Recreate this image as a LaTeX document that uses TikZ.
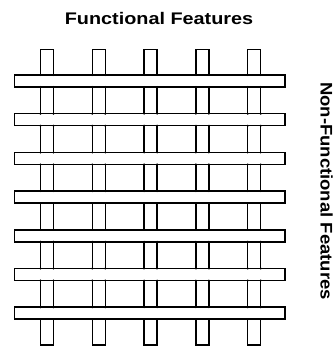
\documentclass[tikz,border=0pt]{standalone}
\usepackage{fontspec}
\setmainfont{Liberation Sans}
\begin{document}
\begin{tikzpicture}[x=1pt,y=-1pt,
  bar/.style={draw=black,line width=1.5pt,fill=white},
  post/.style={draw=black,line width=1.5pt},
  joint/.style={fill=black},
  lbl/.style={font=\fontsize{16.8}{20}\selectfont\bfseries,inner sep=0pt}]
\useasboundingbox (0,0) rectangle (335,348);
% title and side label
\node[lbl,anchor=base] (title) at (159,24) {\scalebox{1.18}[1]{Functional Features}};
\node[lbl,anchor=base,rotate=-90] (side) at (320.5,191) {\scalebox{1.10}[1]{Non-Functional Features}};
% bars (horizontal)
\foreach \k in {0,...,6}{
  \pgfmathsetmacro{\yt}{75+38.7*\k}
  \draw[bar] (14.5,\yt) rectangle (285,\yt+12);
}
% posts (vertical)
\foreach \i in {0,...,4}{
  \pgfmathsetmacro{\xl}{40.5+51.8*\i}
  \pgfmathsetmacro{\xr}{\xl+13}
  \draw[post] (\xl,75) -- (\xl,49.5) -- (\xr,49.5) -- (\xr,75);
  \draw[post] (\xl,{75+38.7*6+12}) -- (\xl,345) -- (\xr,345) -- (\xr,{75+38.7*6+12});
  \foreach \k in {0,...,5}{
    \pgfmathsetmacro{\ya}{75+38.7*\k+12}
    \pgfmathsetmacro{\yb}{75+38.7*(\k+1)}
    \draw[post] (\xl,\ya) -- (\xl,\yb) (\xr,\ya) -- (\xr,\yb);
  }
  \foreach \k in {0,...,6}{
    \pgfmathsetmacro{\yt}{75+38.7*\k}
    \fill[joint] (\xl,\yt) circle (1.1) (\xr,\yt) circle (1.1)
                 (\xl,\yt+12) circle (1.1) (\xr,\yt+12) circle (1.1);
  }
}
\end{tikzpicture}
\end{document}
